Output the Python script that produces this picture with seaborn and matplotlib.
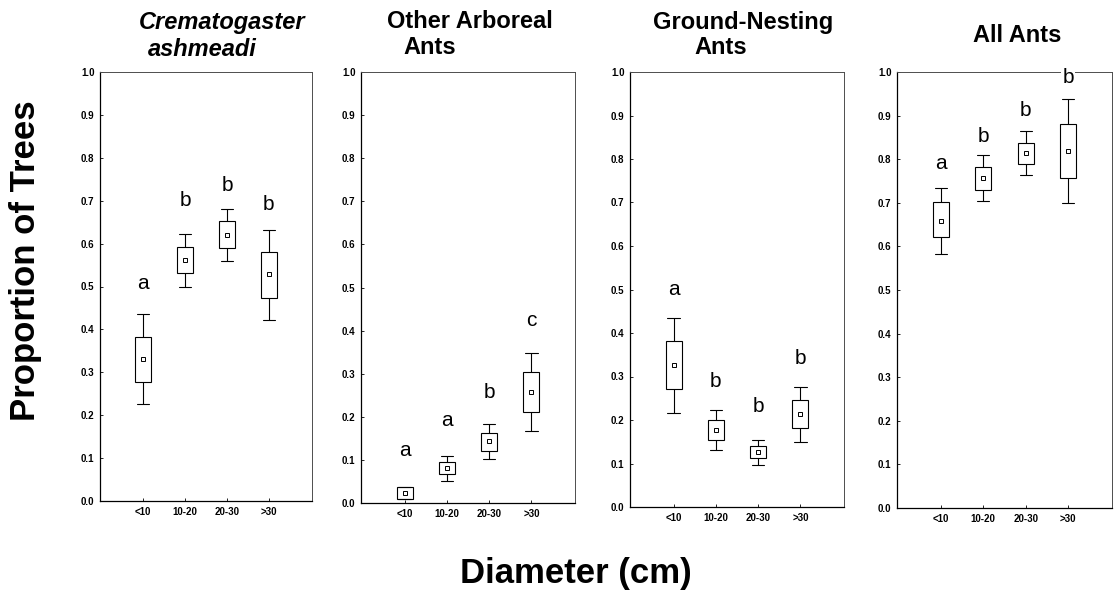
#!/usr/bin/env python3
"""
Proportion of trees occupied by ants, by trunk diameter class (box = mean +/- SE, whiskers).
"""

import numpy as np
import pandas as pd
import matplotlib
matplotlib.use("Agg")
import matplotlib.pyplot as plt
import seaborn as sns

# Data
size_classes = ["<10", "10-20", "20-30", ">30"]

# Crematogaster ashmeadi
crem_whisker_lo = [0.226, 0.500, 0.560, 0.422]
crem_box_lo = [0.277, 0.531, 0.590, 0.474]
crem_mean = [0.331, 0.562, 0.621, 0.529]
crem_box_hi = [0.383, 0.593, 0.652, 0.580]
crem_whisker_hi = [0.435, 0.623, 0.680, 0.632]
crem_letters = ["a", "b", "b", "b"]
crem_letter_y = [0.508, 0.700, 0.735, 0.692]

# Other arboreal ants
arb_whisker_lo = [0.009, 0.052, 0.101, 0.167]
arb_box_lo = [0.009, 0.067, 0.121, 0.212]
arb_mean = [0.023, 0.081, 0.143, 0.258]
arb_box_hi = [0.037, 0.096, 0.163, 0.304]
arb_whisker_hi = [0.037, 0.110, 0.184, 0.349]
arb_letters = ["a", "a", "b", "c"]
arb_letter_y = [0.122, 0.191, 0.257, 0.423]

# Ground-nesting ants
gnd_whisker_lo = [0.217, 0.130, 0.096, 0.149]
gnd_box_lo = [0.272, 0.155, 0.112, 0.181]
gnd_mean = [0.326, 0.178, 0.126, 0.214]
gnd_box_hi = [0.381, 0.200, 0.140, 0.245]
gnd_whisker_hi = [0.435, 0.222, 0.154, 0.277]
gnd_letters = ["a", "b", "b", "b"]
gnd_letter_y = [0.500, 0.289, 0.231, 0.342]

# All ants
all_whisker_lo = [0.582, 0.703, 0.763, 0.699]
all_box_lo = [0.621, 0.729, 0.789, 0.758]
all_mean = [0.659, 0.757, 0.815, 0.819]
all_box_hi = [0.701, 0.783, 0.838, 0.880]
all_whisker_hi = [0.735, 0.809, 0.865, 0.938]
all_letters = ["a", "b", "b", "b"]
all_letter_y = [0.790, 0.853, 0.912, 0.987]

panels = [
    (crem_whisker_lo, crem_box_lo, crem_mean, crem_box_hi, crem_whisker_hi, crem_letters, crem_letter_y),
    (arb_whisker_lo, arb_box_lo, arb_mean, arb_box_hi, arb_whisker_hi, arb_letters, arb_letter_y),
    (gnd_whisker_lo, gnd_box_lo, gnd_mean, gnd_box_hi, gnd_whisker_hi, gnd_letters, gnd_letter_y),
    (all_whisker_lo, all_box_lo, all_mean, all_box_hi, all_whisker_hi, all_letters, all_letter_y),
]

# axes boxes in pixels: left, right, top, bottom
W, H = 1117, 592
axes_px = [(100, 312, 72, 501), (361, 575, 72, 503), (630, 844, 72, 507), (897, 1112, 72, 508)]

# title lines: (text, center x px, center y px, italic)
title_lines = [
    ("Crematogaster", 222, 23, True), ("ashmeadi", 202, 49, True),
    ("Other Arboreal", 470, 22, False), ("Ants", 430, 48, False),
    ("Ground-Nesting", 743, 22, False), ("Ants", 721, 48, False),
    ("All Ants", 1017, 36, False),
]

sns.set_theme(style="ticks")
plt.rcParams["font.family"] = ["Liberation Sans", "DejaVu Sans"]
plt.rcParams["text.color"] = "black"
plt.rcParams["xtick.color"] = "black"
plt.rcParams["ytick.color"] = "black"


def long_frame(wlo, blo, mean, bhi, whi):
    """Five values per class so that min/Q1/median/Q3/max reproduce whisker/box limits."""
    rows = []
    for i, cls in enumerate(size_classes):
        for v in (wlo[i], blo[i], mean[i], bhi[i], whi[i]):
            rows.append({"diameter": cls, "proportion": v})
    return pd.DataFrame(rows)


fig = plt.figure(figsize=(W / 100, H / 100), dpi=100)

for (wlo, blo, mean, bhi, whi, letters, letter_y), (l, r, t, b) in zip(panels, axes_px):
    ax = fig.add_axes([l / W, 1 - b / H, (r - l) / W, (b - t) / H])
    df = long_frame(wlo, blo, mean, bhi, whi)
    sns.boxplot(data=df, x="diameter", y="proportion", order=size_classes, ax=ax,
                whis=np.inf, width=0.38, color="white", linecolor="black", linewidth=0.8,
                medianprops={"linewidth": 0}, capwidths=0.29)
    sns.pointplot(x=size_classes, y=mean, order=size_classes, ax=ax, color="black",
                  linestyle="none", marker="s", markersize=3.2, markeredgewidth=0.7,
                  markerfacecolor="white", errorbar=None)
    for i, (lab, ly) in enumerate(zip(letters, letter_y)):
        ax.text(i, ly, lab, ha="center", va="center", fontsize=15, clip_on=False, zorder=5,
                bbox=dict(facecolor="white", edgecolor="none", pad=1.0))

    ax.set_xlim(-1.03, 4.03)
    ax.set_ylim(0, 1.0)
    ax.set_yticks(np.arange(0, 1.01, 0.1))
    ax.set_yticklabels([f"{v:.1f}" for v in np.arange(0, 1.01, 0.1)])
    ax.set_xlabel("")
    ax.set_ylabel("")
    ax.tick_params(axis="both", labelsize=7, length=2, width=0.6, direction="in", pad=4)
    for lab in ax.get_xticklabels() + ax.get_yticklabels():
        lab.set_fontweight("bold")
    for side in ["left", "bottom"]:
        ax.spines[side].set_color("black")
        ax.spines[side].set_linewidth(0.9)
    for side in ["top", "right"]:
        ax.spines[side].set_color("0.3")
        ax.spines[side].set_linewidth(0.7)

for text, cx, cy, italic in title_lines:
    fig.text(cx / W, 1 - cy / H, text, ha="center", va="center", fontsize=17,
             fontweight="bold", fontstyle="italic" if italic else "normal")

fig.text(26 / W, 1 - 261 / H, "Proportion of Trees", rotation=90, ha="center", va="center",
         fontsize=25, fontweight="bold")
fig.text(576 / W, 1 - 573 / H, "Diameter (cm)", ha="center", va="center",
         fontsize=25, fontweight="bold")

fig.savefig("out.png", dpi=100)
